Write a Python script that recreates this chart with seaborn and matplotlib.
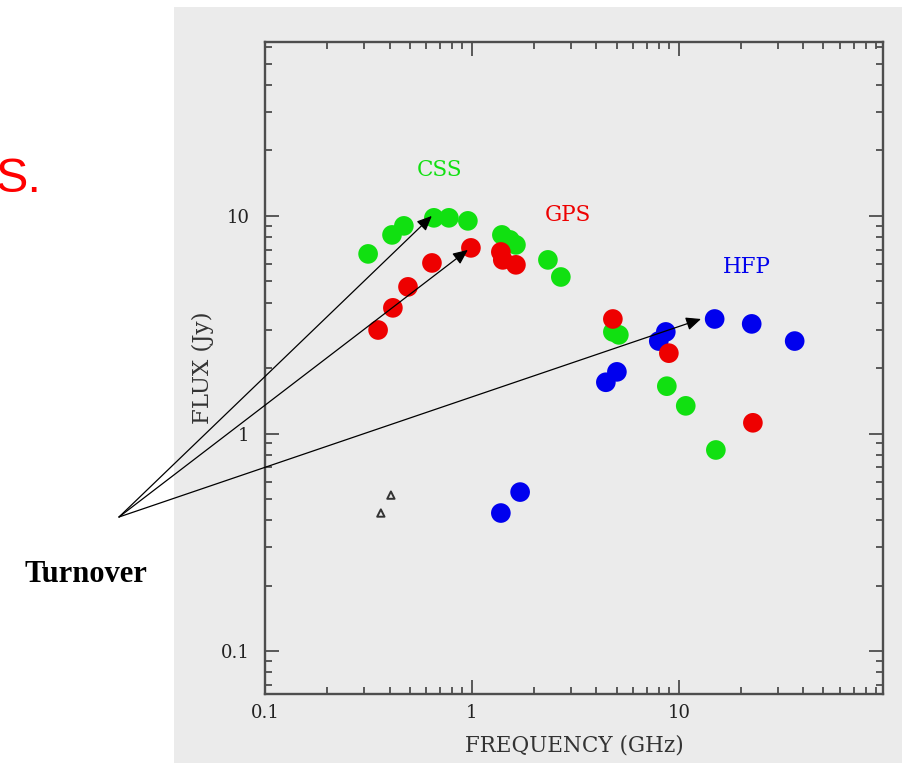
import matplotlib
matplotlib.use("Agg")
import matplotlib.pyplot as plt
import numpy as np
import pandas as pd
import seaborn as sns
from matplotlib.patches import Rectangle
from matplotlib.ticker import LogLocator, FixedLocator, FixedFormatter, NullFormatter

# Radio spectra of compact sources: flux density vs frequency
css_freq = [0.315, 0.411, 0.469, 0.655, 0.774, 0.956, 1.396, 1.526, 1.632, 2.33, 2.69, 4.80, 5.13, 8.75, 10.8, 15.1]
css_flux = [6.69, 8.18, 9.0, 9.8, 9.8, 9.49, 8.18, 7.76, 7.36, 6.28, 5.24, 2.93, 2.84, 1.65, 1.34, 0.84]

hfp_freq = [14.9, 22.5, 36.3, 8.65, 8.0, 4.44, 5.02, 1.71, 1.38]
hfp_flux = [3.36, 3.19, 2.66, 2.93, 2.66, 1.72, 1.92, 0.538, 0.431]

gps_freq = [0.352, 0.415, 0.491, 0.641, 0.989, 1.38, 1.41, 1.632, 4.80, 8.95, 22.8]
gps_flux = [2.99, 3.78, 4.72, 6.08, 7.13, 6.83, 6.28, 5.96, 3.36, 2.34, 1.12]

limit_freq = [0.363, 0.406]
limit_flux = [0.431, 0.521]

turnover_freq = [0.64, 0.956, 12.8]
turnover_flux = [10.0, 6.98, 3.36]

class_names = ["CSS", "HFP", "GPS"]
class_colors = {"CSS": "#11e011", "GPS": "#ee0000", "HFP": "#0000ee"}
class_label_xy = {"CSS": (0.70, 16.3), "GPS": (2.91, 10.1), "HFP": (21.3, 5.83)}

x_ticks = [0.1, 1, 10]
x_ticklabels = ["0.1", "1", "10"]
y_ticks = [0.1, 1, 10]
y_ticklabels = ["0.1", "1", "10"]

frames = []
for name, f, s in [("CSS", css_freq, css_flux), ("HFP", hfp_freq, hfp_flux), ("GPS", gps_freq, gps_flux)]:
    frames.append(pd.DataFrame({"freq": f, "flux": s, "cls": name}))
df = pd.concat(frames, ignore_index=True)
lim_df = pd.DataFrame({"freq": limit_freq, "flux": limit_flux})

W, H = 903, 763
fig = plt.figure(figsize=(W / 100, H / 100), dpi=100, facecolor="white")
panel = "#ebebeb"
fig.patches.append(Rectangle((174 / W, 0), 1 - 174 / W, 1 - 7 / H,
                             transform=fig.transFigure, facecolor=panel,
                             edgecolor="none", zorder=-5))

ax = fig.add_axes([265 / W, 1 - 694 / H, (883 - 265) / W, (694 - 42) / H])
ax.set_facecolor(panel)
ax.set_xscale("log")
ax.set_yscale("log")
ax.set_xlim(0.1, 97)
ax.set_ylim(0.0635, 63)

sns.scatterplot(data=df, x="freq", y="flux", hue="cls", hue_order=class_names,
                palette=class_colors, s=200, linewidth=0, legend=False, ax=ax, zorder=3)
sns.scatterplot(data=lim_df, x="freq", y="flux", marker="^", s=28,
                facecolor="none", edgecolor="#333333", linewidth=1.4,
                legend=False, ax=ax, zorder=3)

for name, (lx, ly) in class_label_xy.items():
    ax.text(lx, ly, name, color=class_colors[name], fontsize=15.5,
            family="DejaVu Serif", ha="center", va="center")

# Axes frame and ticks
for sp in ax.spines.values():
    sp.set_color("#4d4d4d")
    sp.set_linewidth(1.7)
ax.xaxis.set_major_locator(FixedLocator(x_ticks))
ax.xaxis.set_major_formatter(FixedFormatter(x_ticklabels))
ax.yaxis.set_major_locator(FixedLocator(y_ticks))
ax.yaxis.set_major_formatter(FixedFormatter(y_ticklabels))
ax.xaxis.set_minor_locator(LogLocator(base=10, subs=np.arange(2, 10)))
ax.yaxis.set_minor_locator(LogLocator(base=10, subs=np.arange(2, 10)))
ax.xaxis.set_minor_formatter(NullFormatter())
ax.yaxis.set_minor_formatter(NullFormatter())
ax.tick_params(which="both", direction="in", top=True, right=True,
               color="#4d4d4d", width=1.3)
ax.tick_params(which="major", length=10, labelsize=13, labelcolor="#222222")
ax.tick_params(which="minor", length=5)
ax.tick_params(axis="x", pad=7)
ax.tick_params(axis="y", pad=11)
for lab in ax.get_xticklabels() + ax.get_yticklabels():
    lab.set_family("DejaVu Serif")

ax.set_xlabel("FREQUENCY (GHz)", fontsize=15.5, family="DejaVu Serif",
              color="#333333", labelpad=9)
ax.set_ylabel("FLUX (Jy)", fontsize=16.5, family="DejaVu Serif",
              color="#333333", labelpad=5)

# Turnover annotation with arrows to each class peak
start = (119 / W, 1 - 517 / H)
for fx, fy in zip(turnover_freq, turnover_flux):
    ax.annotate("", xy=(fx, fy), xycoords="data", xytext=start,
                textcoords="figure fraction", annotation_clip=False,
                arrowprops=dict(arrowstyle="-|>,head_length=0.45,head_width=0.2",
                                mutation_scale=20, color="black", lw=0.9,
                                shrinkA=0, shrinkB=0), zorder=5)

fig.text(86 / W, 1 - 575 / H, "Turnover", fontsize=22, fontweight="bold",
         family="Liberation Serif", ha="center", va="center", color="black")
fig.text(-4 / W, 1 - 180 / H, "S.", fontsize=35, family="Liberation Sans",
         ha="left", va="center", color="#ff0000")

fig.savefig("out.png", dpi=100, facecolor="white")
